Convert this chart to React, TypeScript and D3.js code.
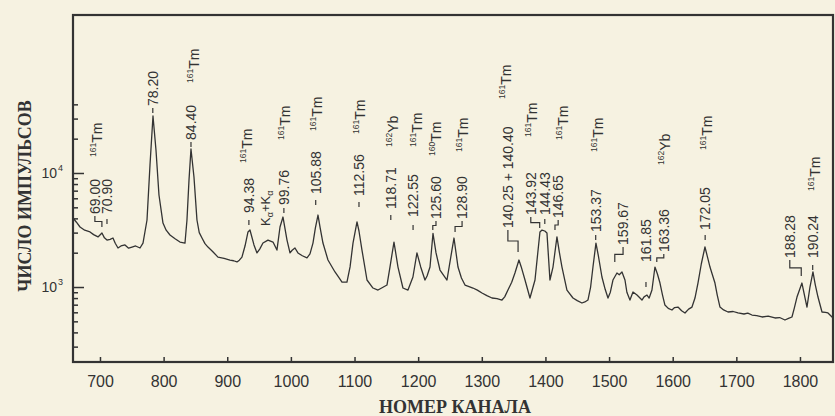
import React, { useEffect, useRef } from "react";
import * as d3 from "d3";

// gamma spectrum (channel number, counts)
const channels = [
  657.6, 663, 668.6, 676, 684.3, 690, 696.9, 703.1, 707, 711, 716, 720.4, 724, 728.3, 733, 739.3, 745, 750.3, 756, 762.9,
  767.6, 773.9, 778.6, 783.3, 788, 792.7, 799, 804, 810, 818, 825.7, 833.6, 836.7, 839.9, 843, 847.7, 852.4, 856, 860.3, 865,
  869.7, 877, 885.4, 895, 904.3, 910, 915.3, 919, 923.1, 928, 932.6, 935.7, 942, 946.7, 951, 956.1, 964, 971.9, 978.1, 982.9,
  987.6, 993.9, 998.6, 1002, 1006.4, 1011.1, 1018, 1025.3, 1030, 1034.7, 1038.5, 1042.6, 1046, 1050.4, 1058.3, 1064, 1069.3, 1075, 1080.3, 1088.1,
  1093, 1097.6, 1103.9, 1107, 1111.7, 1119.6, 1129, 1136.9, 1144, 1151, 1155.7, 1162, 1168.3, 1176.1, 1184, 1191.8, 1198.1, 1204, 1210.7, 1214,
  1218.6, 1223.3, 1228, 1234.3, 1245.3, 1253.1, 1256.3, 1262.6, 1268, 1273.6, 1280, 1286.1, 1293, 1300.3, 1308, 1316, 1324, 1331.7, 1336, 1341.1,
  1347, 1352.1, 1358.4, 1362, 1367.9, 1375.7, 1383.6, 1388, 1391.4, 1394.6, 1399, 1402.4, 1407.1, 1411.9, 1418.1, 1422, 1426, 1433.8, 1443.3, 1450,
  1457.4, 1462, 1466.8, 1471, 1474.7, 1479.4, 1483, 1488.8, 1494, 1498.3, 1502, 1506.1, 1512.4, 1516, 1520.3, 1525, 1528, 1532.8, 1537.6, 1543.9,
  1551.7, 1555, 1559.6, 1563, 1567.4, 1572.1, 1576, 1580, 1584, 1587.8, 1593, 1598.8, 1603, 1608.3, 1614, 1619.3, 1625, 1630.3, 1635, 1639.7,
  1645, 1650.7, 1655, 1658.6, 1662, 1666.4, 1670, 1674.3, 1680, 1686.9, 1695, 1702.6, 1712, 1718, 1724.6, 1732, 1740.3, 1750, 1760.7, 1768,
  1776.4, 1782, 1787.4, 1791, 1795.3, 1803.1, 1808, 1811, 1815.7, 1820.4, 1824, 1828.3, 1834.6, 1840, 1844, 1852,
];
const counts = [
  4030, 3700, 3360, 3150, 3040, 2880, 2750, 2980, 2700, 2580, 2620, 2690, 2420, 2200, 2290, 2340, 2190, 2240, 2290, 2200,
  2430, 3870, 11750, 31600, 15900, 6410, 3640, 3150, 2860, 2650, 2480, 2430, 3870, 8680, 16250, 9220, 3870, 3000, 2690, 2400,
  2240, 2050, 1830, 1780, 1725, 1700, 1660, 1720, 1830, 2300, 3040, 3160, 2340, 1990, 2150, 2430, 2580, 2480, 2110, 3360,
  4110, 2580, 1990, 2100, 2200, 1990, 1880, 1800, 1950, 2430, 3300, 4280, 3300, 2430, 1725, 1520, 1355, 1220, 1106, 1106,
  1500, 2430, 3720, 3100, 2110, 1152, 980, 941, 990, 1041, 1497, 2480, 1497, 980, 941, 1224, 1990, 1500, 1152, 1250,
  1497, 2950, 2000, 1410, 1152, 2110, 2690, 1497, 1200, 1041, 1010, 980, 940, 886, 840, 801, 790, 769, 820, 941,
  1100, 1326, 1725, 1500, 1152, 801, 1152, 2000, 3040, 3160, 3100, 2980, 1152, 1497, 2750, 2000, 1497, 941, 801, 760,
  724, 740, 769, 1000, 1497, 2430, 1900, 1224, 950, 801, 900, 1152, 1326, 1280, 1355, 1152, 900, 769, 904, 851,
  769, 820, 851, 800, 941, 1497, 1300, 1084, 850, 695, 650, 629, 660, 667, 620, 592, 640, 667, 800, 1084,
  1600, 2244, 1800, 1497, 1300, 1084, 850, 667, 630, 604, 610, 592, 580, 590, 568, 560, 546, 555, 535, 540,
  514, 530, 546, 650, 817, 1084, 800, 667, 1000, 1355, 1050, 817, 604, 600, 592, 535,
];

const xTicks = [700, 800, 900, 1000, 1100, 1200, 1300, 1400, 1500, 1600, 1700, 1800];
const majorY = [1e3, 1e4];
const minorY = [300, 400, 500, 600, 700, 800, 900, 2000, 3000, 4000, 5000, 6000, 7000, 8000, 9000, 20000, 30000, 40000];

// peak energies (keV): text column + start level, and where its leader ends
const peaks = [
  { t: "69.00", tc: 692, tv: 4370, pc: 703, pv: 3360 },
  { t: "70.90", tc: 711, tv: 4370, pc: 711, pv: 3570 },
  { t: "78.20", tc: 783, tv: 38700, pc: 783, pv: 33600 },
  { t: "84.40", tc: 843, tv: 19500, pc: 843, pv: 16900 },
  { t: "94.38", tc: 934, tv: 4460, pc: 934, pv: 3500 },
  { t: "99.76", tc: 989, tv: 5240, pc: 989, pv: 4460 },
  { t: "105.88", tc: 1039, tv: 6540, pc: 1039, pv: 5240 },
  { t: "112.56", tc: 1107, tv: 6290, pc: 1107, pv: 5030 },
  { t: "118.71", tc: 1157, tv: 4830, pc: 1157, pv: 3870 },
  { t: "122.55", tc: 1192, tv: 4110, pc: 1192, pv: 3160 },
  { t: "125.60", tc: 1228, tv: 3950, pc: 1223, pv: 3160 },
  { t: "128.90", tc: 1269, tv: 3950, pc: 1258, pv: 3040 },
  { t: "140.25 + 140.40", tc: 1341, tv: 3290, pc: 1357, pv: 2030 },
  { t: "143.92", tc: 1377, tv: 4280, pc: 1391, pv: 3290 },
  { t: "144.43", tc: 1399, tv: 4280, pc: 1399, pv: 3570 },
  { t: "146.65", tc: 1420, tv: 4030, pc: 1415, pv: 3160 },
  { t: "153.37", tc: 1479, tv: 3040, pc: 1479, pv: 2580 },
  { t: "159.67", tc: 1522, tv: 2340, pc: 1509, pv: 1660 },
  { t: "161.85", tc: 1558, tv: 1660, pc: 1558, pv: 1000 },
  { t: "163.36", tc: 1586, tv: 2030, pc: 1575, pv: 1660 },
  { t: "172.05", tc: 1651, tv: 3160, pc: 1651, pv: 2580 },
  { t: "188.28", tc: 1784, tv: 1800, pc: 1802, pv: 1250 },
  { t: "190.24", tc: 1820, tv: 1800, pc: 1820, pv: 1410 },
];

// nuclide tags
const nuclides = [
  { a: "161", s: "Tm", c: 695, v: 13800 },
  { a: "161", s: "Tm", c: 848, v: 61600 },
  { a: "161", s: "Tm", c: 931, v: 12240 },
  { a: "161", s: "Tm", c: 991, v: 19500 },
  { a: "161", s: "Tm", c: 1041, v: 23400 },
  { a: "161", s: "Tm", c: 1109, v: 22000 },
  { a: "162", s: "Yb", c: 1160, v: 16900 },
  { a: "161", s: "Tm", c: 1198, v: 16900 },
  { a: "160", s: "Tm", c: 1228, v: 14100 },
  { a: "161", s: "Tm", c: 1270, v: 15300 },
  { a: "161", s: "Tm", c: 1338, v: 44600 },
  { a: "161", s: "Tm", c: 1379, v: 20700 },
  { a: "161", s: "Tm", c: 1428, v: 19500 },
  { a: "161", s: "Tm", c: 1483, v: 15300 },
  { a: "162", s: "Yb", c: 1588, v: 11750 },
  { a: "161", s: "Tm", c: 1654, v: 15900 },
  { a: "161", s: "Tm", c: 1824, v: 6950 },
];

const sumPeak = { c: 961, v: 3430 };

const App = () => {
  const svgRef = useRef<SVGSVGElement>(null);

  useEffect(() => {
    const width = 835;
    const height = 416;
    const left = 73, right = 833, top = 15, bottom = 362;
    const ink = "#333333";
    const sans = "'Liberation Sans', Arial, sans-serif";
    const serif = "'Liberation Serif', 'Times New Roman', serif";

    const svg = d3.select(svgRef.current);
    svg.selectAll("*").remove();

    svg.append("rect").attr("width", width).attr("height", height).attr("fill", "#f6f2e1");

    const x = d3.scaleLinear().domain([657.6, 1851.9]).range([left, right]);
    const y = d3.scaleLog().domain([220, 243000]).range([bottom, top]);

    // x axis, ticks pointing inside
    const xAxis = svg.append("g")
      .attr("transform", `translate(0,${bottom})`)
      .call(d3.axisBottom(x).tickValues(xTicks).tickFormat(d3.format("d")).tickSizeInner(-5).tickSizeOuter(0).tickPadding(14));
    xAxis.select(".domain").remove();
    xAxis.selectAll("line").attr("stroke", ink).attr("stroke-width", 1.5);
    xAxis.selectAll("text").attr("fill", ink).attr("font-size", 16).attr("font-family", sans);

    // y axis (log)
    const yMaj = svg.append("g")
      .attr("transform", `translate(${left},0)`)
      .call(d3.axisLeft(y).tickValues(majorY).tickSizeInner(-11).tickSizeOuter(0).tickFormat(() => ""));
    const yMin = svg.append("g")
      .attr("transform", `translate(${left},0)`)
      .call(d3.axisLeft(y).tickValues(minorY).tickSizeInner(-5).tickSizeOuter(0).tickFormat(() => ""));
    [yMaj, yMin].forEach((g) => {
      g.select(".domain").remove();
      g.selectAll("line").attr("stroke", ink).attr("stroke-width", 1.5);
    });

    majorY.forEach((v) => {
      svg.append("text")
        .attr("x", 57).attr("y", y(v) + 5)
        .attr("text-anchor", "end")
        .attr("font-family", sans).attr("font-size", 14).attr("fill", ink)
        .text("10");
      svg.append("text")
        .attr("x", 58).attr("y", y(v) - 2)
        .attr("font-family", sans).attr("font-size", 9).attr("fill", ink)
        .text(String(Math.round(Math.log10(v))));
    });

    // frame
    svg.append("rect")
      .attr("x", left).attr("y", top)
      .attr("width", right - left).attr("height", bottom - top)
      .attr("fill", "none").attr("stroke", ink).attr("stroke-width", 2.2);

    // spectrum
    const line = d3.line<number>()
      .x((_, i) => x(channels[i]))
      .y((d) => y(d));
    svg.append("path")
      .datum(counts)
      .attr("d", line)
      .attr("fill", "none")
      .attr("stroke", ink)
      .attr("stroke-width", 1.3)
      .attr("stroke-linejoin", "round");

    // peak energy labels, rotated
    const lab = svg.append("g").attr("fill", ink).attr("font-family", sans);
    peaks.forEach((p) => {
      const tx = x(p.tc), ty = y(p.tv), px = x(p.pc), py = y(p.pv);
      lab.append("text")
        .attr("transform", `translate(${tx},${ty}) rotate(-90)`)
        .attr("dy", "0.36em")
        .attr("font-size", 14)
        .text(p.t);
      if (Math.abs(tx - px) < 2) {
        lab.append("line")
          .attr("x1", px).attr("x2", px)
          .attr("y1", py - 5).attr("y2", py)
          .attr("stroke", ink).attr("stroke-width", 1.2);
      } else {
        const mid = (ty + 2 + py) / 2;
        lab.append("path")
          .attr("d", `M${tx},${ty + 2}V${mid}H${px}V${py}`)
          .attr("fill", "none").attr("stroke", ink).attr("stroke-width", 1.2);
      }
    });

    nuclides.forEach((n) => {
      const t = lab.append("text")
        .attr("transform", `translate(${x(n.c)},${y(n.v)}) rotate(-90)`)
        .attr("y", 5);
      t.append("tspan").attr("font-size", 8.5).attr("dy", -6).text(n.a);
      t.append("tspan").attr("font-size", 14).attr("dy", 6).text(n.s);
    });

    const k = lab.append("text")
      .attr("transform", `translate(${x(sumPeak.c)},${y(sumPeak.v)}) rotate(-90)`)
      .attr("y", 4)
      .attr("font-size", 13);
    k.append("tspan").text("K");
    k.append("tspan").attr("font-size", 9).attr("dy", 3).text("α");
    k.append("tspan").attr("dy", -3).text("+K");
    k.append("tspan").attr("font-size", 9).attr("dy", 3).text("α");

    // axis titles
    svg.append("text")
      .attr("transform", `translate(31,196) rotate(-90)`)
      .attr("text-anchor", "middle")
      .attr("font-family", serif).attr("font-weight", "bold").attr("font-size", 18)
      .attr("fill", ink)
      .text("ЧИСЛО ИМПУЛЬСОВ");
    svg.append("text")
      .attr("x", 455).attr("y", 413)
      .attr("text-anchor", "middle")
      .attr("font-family", serif).attr("font-weight", "bold").attr("font-size", 18)
      .attr("fill", ink)
      .text("НОМЕР КАНАЛА");
  }, []);

  return <svg ref={svgRef} width={835} height={416} style={{ position: "absolute", left: 0, top: 0 }} />;
};

export default App;
